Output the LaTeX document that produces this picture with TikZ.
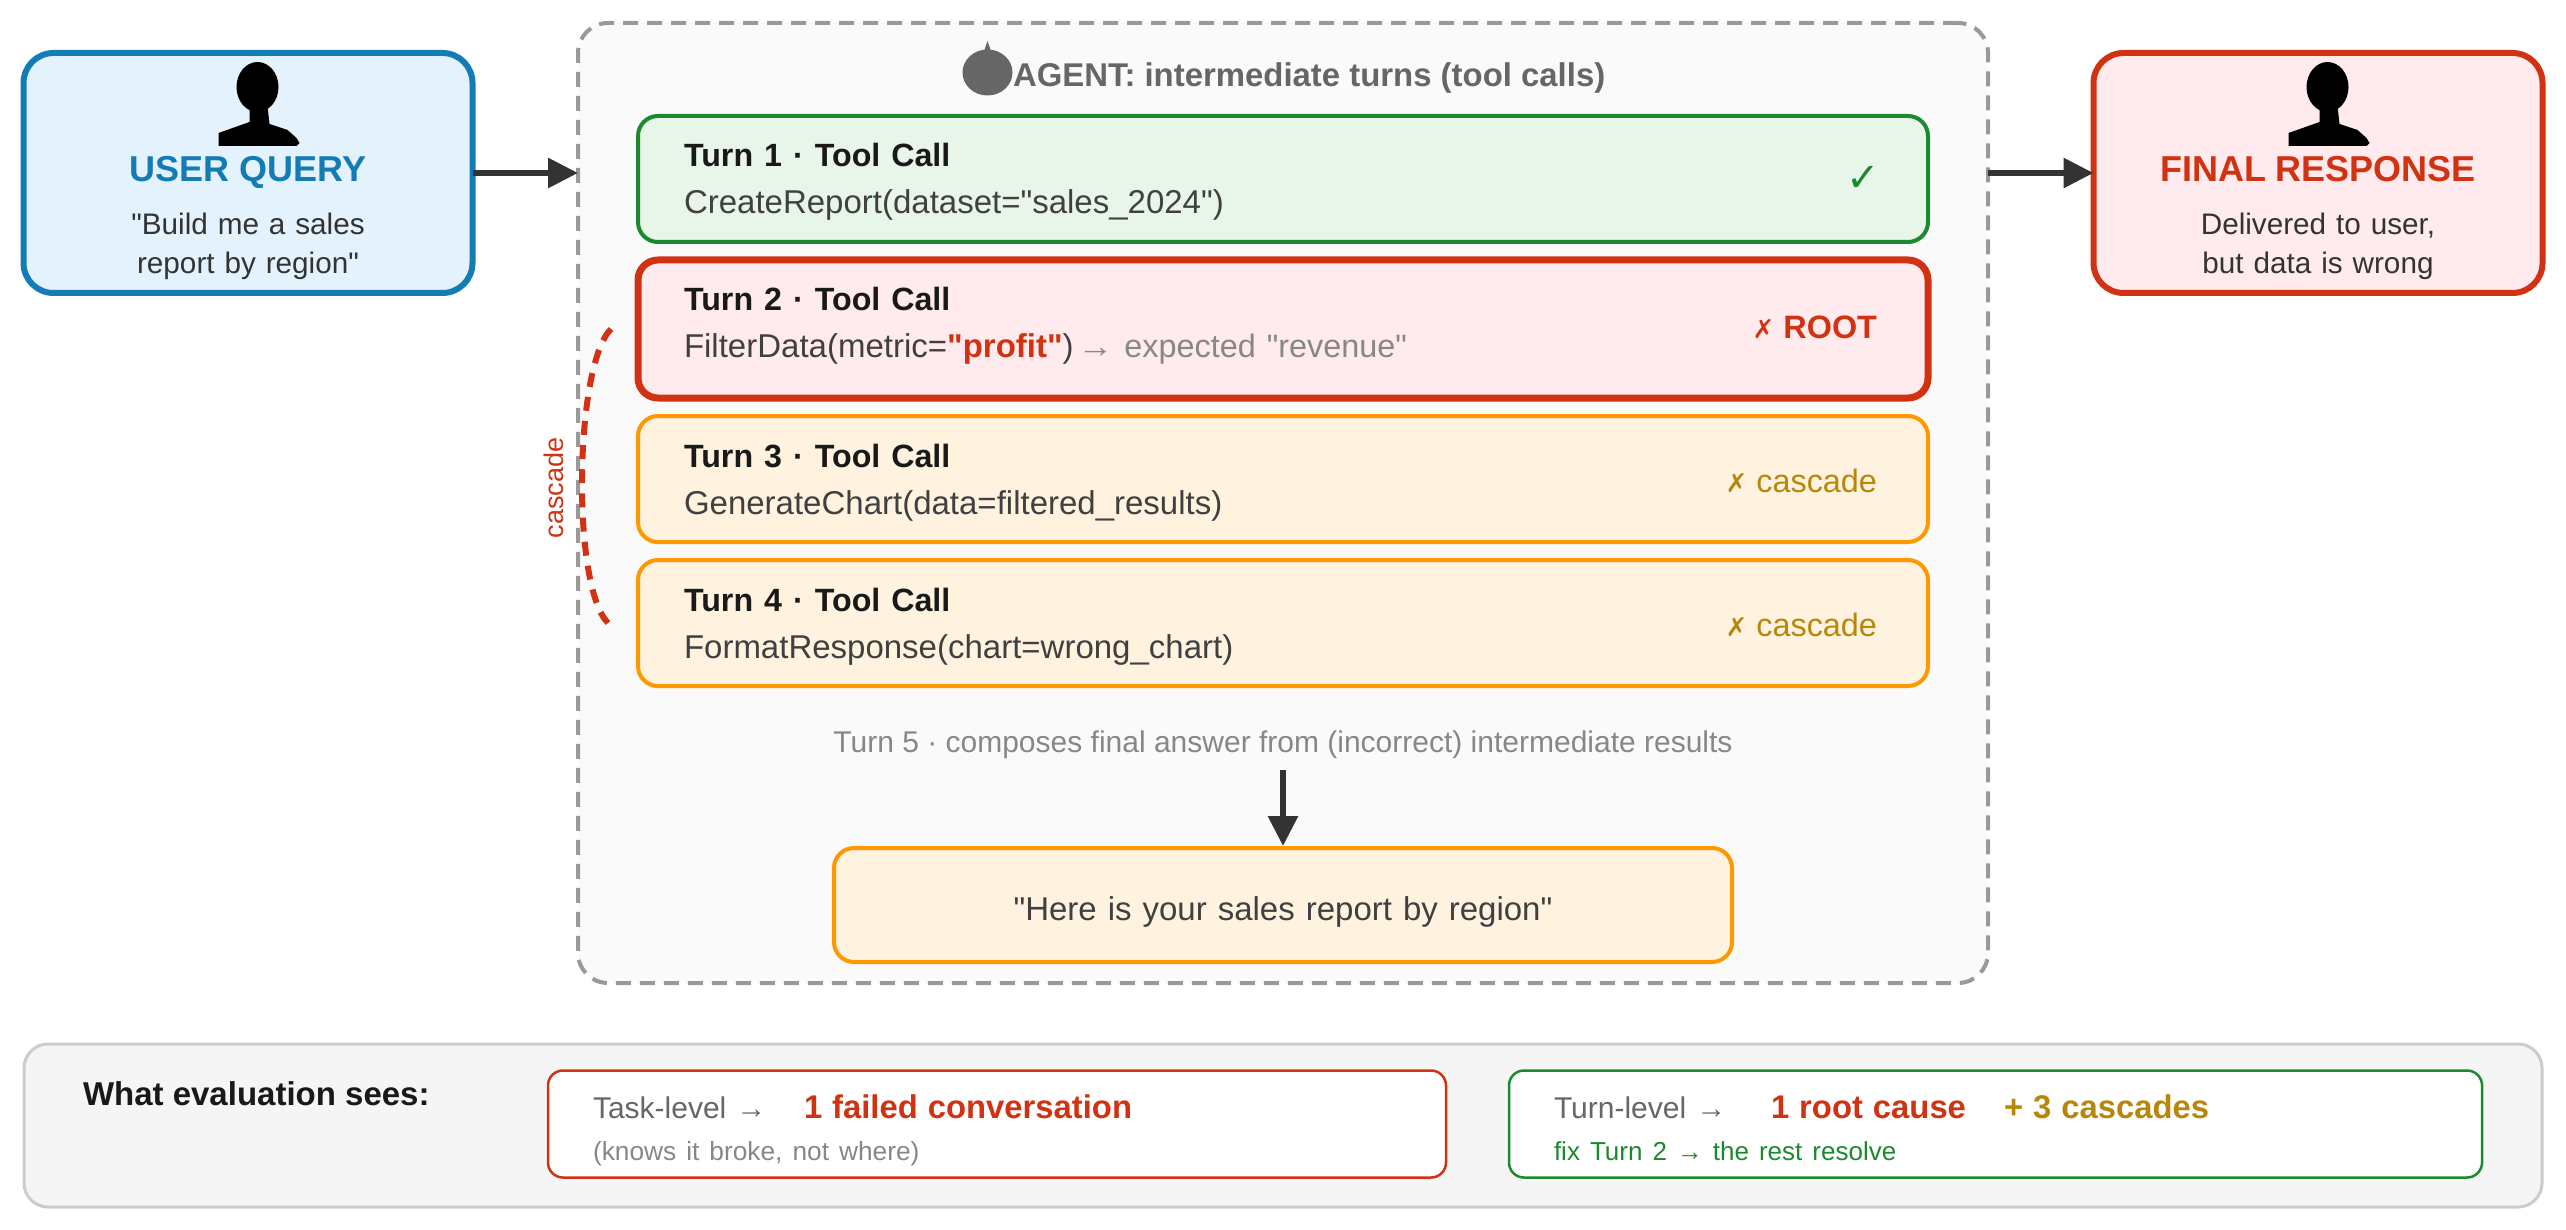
\documentclass[tikz,border=0pt]{standalone}
\usepackage{fontspec}
\setmainfont{Liberation Sans}[Ligatures=TeXOff]
\newfontfamily\marksfont{DejaVu Sans}
\usepackage{xcolor}
\usetikzlibrary{arrows.meta,positioning}

\definecolor{userblue}{HTML}{137CB5}
\definecolor{userfill}{HTML}{E3F2FD}
\definecolor{okgreen}{HTML}{1A8A2E}
\definecolor{okfill}{HTML}{E8F5E9}
\definecolor{rootred}{HTML}{D13212}
\definecolor{rootfill}{HTML}{FFEBEE}
\definecolor{warnorange}{HTML}{FF9800}
\definecolor{warnfill}{HTML}{FFF3E0}
\definecolor{cascadegold}{HTML}{B8860B}

\begin{document}
\begin{tikzpicture}[
    x=1pt, y=-1pt,
    every node/.style={inner sep=0pt, outer sep=0pt},
    endbox/.style={line width=6pt, rounded corners=30pt, align=center,
                   text width=449pt, text height=129pt, text depth=111pt,
                   text=black!80, font=\fontsize{29.7}{39}\selectfont},
    agentbox/.style={draw=black!40, fill=black!2, line width=4pt, rounded corners=30pt,
                     dash pattern=on 15pt off 9pt, minimum width=1410pt, minimum height=960pt},
    turnbox/.style={line width=4pt, rounded corners=20pt, align=left,
                    text width=1198pt, inner xsep=46pt, text height=51pt, text depth=75pt,
                    text=black!75, font=\fontsize{33}{47}\selectfont},
    status/.style={font=\fontsize{32.4}{36}\selectfont},
    evalbox/.style={draw=#1, fill=white, line width=2.5pt, rounded corners=15pt, align=left,
                    text height=48pt, text depth=59pt, inner xsep=45pt,
                    text=black!60, font=\fontsize{30}{42}\selectfont},
    arrow/.style={-{Triangle[length=30pt,width=29pt]}, line width=6pt, draw=black!80},
    person/.pic={
        \fill[black] (0,-59) ellipse [x radius=21, y radius=25];
        \fill[black] (-8,-40) -- (-8,-24) -- (-39,-13) -- (-39,0) -- (39,0) -- (42,-3)
            -- (39,-8) -- (30,-16) -- (12,-22) -- (10,-40) -- cycle;
    },
]
% End boxes and agent frame
\node[endbox, draw=userblue, fill=userfill] (user) at (248,173)
    {{\fontsize{36}{39}\bfseries\selectfont\color{userblue}USER QUERY}\\[14pt]
     "Build me a sales\\report by region"};
\node[agentbox] (agent) at (1283,503) {};
\node[endbox, draw=rootred, fill=rootfill] (final) at (2318,173)
    {{\fontsize{36}{39}\bfseries\selectfont\color{rootred}FINAL RESPONSE}\\[14pt]
     Delivered to user,\\but data is wrong};
\pic at ([xshift=9.5pt,yshift=-93pt]user.north) {person};
\pic at ([xshift=9.5pt,yshift=-93pt]final.north) {person};

% Agent header
\node[anchor=base west, text=black!60, font=\fontsize{32.9}{36}\bfseries\selectfont] (agenthead)
    at (1013,87) {AGENT: intermediate turns (tool calls)};
\fill[black!60] (987.5,72.5) ellipse [x radius=25, y radius=23]
    (984,51) -- (987.5,41) -- (991,51) -- cycle;

% Turn boxes (top to bottom)
\node[turnbox, draw=okgreen, fill=okfill] (turn1) at (1283,179)
    {{\fontsize{32.2}{47}\bfseries\selectfont\color{black!90}Turn 1 · Tool Call}\\
     CreateReport(dataset="sales\_2024")};
\node[turnbox, draw=rootred, fill=rootfill, line width=7pt, text depth=87pt] (turn2) [below=18pt of turn1]
    {{\fontsize{32.2}{47}\bfseries\selectfont\color{black!90}Turn 2 · Tool Call}\\
     FilterData(metric={\bfseries\color{rootred}"profit"}){\fontsize{32.4}{47}\selectfont\color{black!47}\hspace{4pt}\scalebox{1.1}[1]{→} expected "revenue"}};
\node[turnbox, draw=warnorange, fill=warnfill] (turn3) [below=18pt of turn2]
    {{\fontsize{32.2}{47}\bfseries\selectfont\color{black!90}Turn 3 · Tool Call}\\
     GenerateChart(data=filtered\_results)};
\node[turnbox, draw=warnorange, fill=warnfill] (turn4) [below=18pt of turn3]
    {{\fontsize{32.2}{47}\bfseries\selectfont\color{black!90}Turn 4 · Tool Call}\\
     FormatResponse(chart=wrong\_chart)};

% Right-side status marks
\node[status, text=okgreen, anchor=east, font=\fontsize{40}{36}\marksfont\bfseries] (mark1) [left=48pt of turn1.east] {✓};
\node[status, text=rootred, anchor=east, yshift=1.6pt] (mark2) [left=51pt of turn2.east]
    {{\marksfont\fontsize{26}{36}\selectfont ✗} \textbf{ROOT}};
\node[status, text=cascadegold, anchor=east, yshift=-1.6pt] (mark3) [left=51pt of turn3.east]
    {{\marksfont\fontsize{26}{36}\selectfont ✗} cascade};
\node[status, text=cascadegold, anchor=east, yshift=-1.6pt] (mark4) [left=51pt of turn4.east]
    {{\marksfont\fontsize{26}{36}\selectfont ✗} cascade};

% Cascade bracket
\draw[rootred, line width=6pt, dash pattern=on 14pt off 10.2pt]
    ([xshift=-27pt]turn2.west) to[out=225, in=135, looseness=0.45] ([xshift=-30pt]turn4.west);
\node[rotate=90, anchor=base, text=rootred, font=\fontsize{27}{30}\selectfont] (cascadelabel)
    at (563,488) {cascade};

% Turn 5 and final answer
\node[anchor=base, text=black!47, font=\fontsize{30}{36}\selectfont] (turn5) at (1283,752)
    {Turn 5 · composes final answer from (incorrect) intermediate results};
\node[draw=warnorange, fill=warnfill, line width=4pt, rounded corners=20pt,
      text width=898pt, align=center, text height=72pt, text depth=42pt, text=black!75,
      font=\fontsize{33}{36}\selectfont] (answer) at (1283,905)
    {"Here is your sales report by region"};

% Bottom panel
\node[draw=black!20, fill=black!4, line width=3pt, rounded corners=24pt,
      minimum width=2518pt, minimum height=163pt] (panel) at (1283,1125.5) {};
\node[anchor=base west, text=black!90, font=\fontsize{33}{36}\bfseries\selectfont] (evalhead)
    at (83,1105) {What evaluation sees:};
\node[evalbox=rootred, text width=808pt, anchor=north west] (tasklevel) at (548,1070.5)
    {\makebox[211pt][l]{Task-level →}{\fontsize{32.8}{42}\bfseries\selectfont\color{rootred}1 failed conversation}\\
     {\fontsize{26.3}{42}\selectfont\color{black!47}(knows it broke, not where)}};
\node[evalbox=okgreen, text width=883pt, anchor=north west] (turnlevel) at (1509,1070.5)
    {\makebox[217pt][l]{Turn-level →}{\fontsize{32.8}{42}\bfseries\selectfont\makebox[233pt][l]{\color{rootred}1 root cause}\color{cascadegold}+ 3 cascades}\\
     {\fontsize{26}{42}\selectfont\color{okgreen}fix Turn 2 → the rest resolve}};

% Arrows
\draw[arrow] (user.east) -- (user.east -| agent.west);
\draw[arrow] (final.west -| agent.east) -- (final.west);
\draw[arrow, shorten >=2pt] ([yshift=-18pt]turn5.base) -- (answer.north);

\useasboundingbox (0,0) rectangle (2566,1230);
\end{tikzpicture}
\end{document}
